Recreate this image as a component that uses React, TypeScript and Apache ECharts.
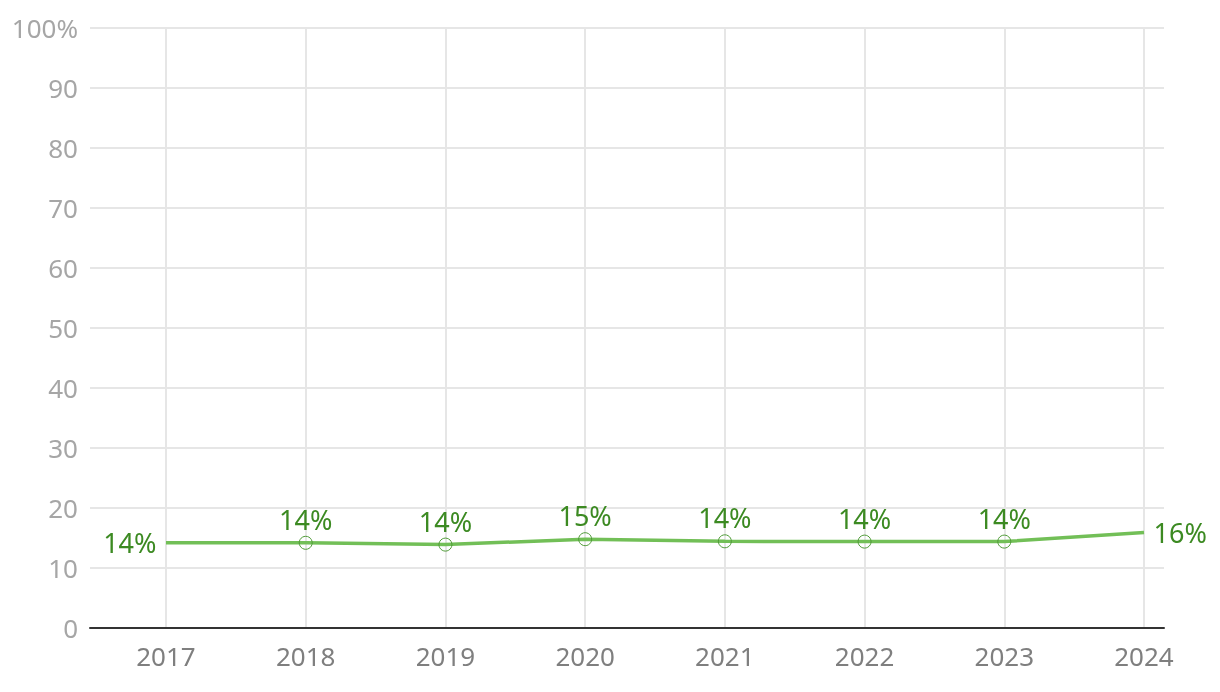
import React, { useEffect, useRef } from "react";
import * as echarts from "echarts";

const years = ["2017", "2018", "2019", "2020", "2021", "2022", "2023", "2024"];
const shares = [14.2, 14.2, 13.9, 14.8, 14.45, 14.4, 14.4, 15.9];
const yTicks = [0, 10, 20, 30, 40, 50, 60, 70, 80, 90, 100];

const FONT = "Noto Sans";
const GREEN_LINE = "#72bf57";
const GREEN_TEXT = "#3c8a22";

export default function App() {
  const ref = useRef<HTMLDivElement>(null);
  useEffect(() => {
    const chart = echarts.init(ref.current!, null, { renderer: "svg" });
    const last = years.length - 1;
    const data = shares.map((v, i) => {
      const item: any = { value: v };
      if (i === 0 || i === last) {
        item.symbolSize = 1;
        item.itemStyle = { color: "transparent", borderColor: "transparent", borderWidth: 0 };
        item.label = { position: i === 0 ? "left" : "right", distance: 9, padding: [0, 0, 4, 0] };
      }
      return item;
    });
    chart.setOption({
      animation: false,
      textStyle: { fontFamily: FONT },
      grid: [
        { left: 90, right: 56, top: 28, bottom: 64, containLabel: false },
        { left: 166, right: 76, top: 28, bottom: 64, containLabel: false },
      ],
      xAxis: [
        {
          type: "category",
          gridIndex: 0,
          data: years,
          axisLine: { show: true, lineStyle: { color: "#333333", width: 2 } },
          axisTick: { show: false },
          axisLabel: { show: false },
          splitLine: { show: false },
          z: 5,
        },
        {
          type: "category",
          gridIndex: 1,
          data: years,
          boundaryGap: false,
          axisLine: { show: false },
          axisTick: { show: false },
          axisLabel: {
            show: true,
            color: "#7f7f7f",
            fontSize: 26,
            fontFamily: FONT,
            margin: 15,
            interval: 0,
          },
          splitLine: { show: true, lineStyle: { color: "#e6e6e6", width: 2 } },
        },
      ],
      yAxis: [
        {
          type: "value",
          gridIndex: 0,
          min: yTicks[0],
          max: yTicks[yTicks.length - 1],
          interval: 10,
          axisLine: { show: false },
          axisTick: { show: false },
          axisLabel: {
            color: "#a6a6a6",
            fontSize: 26,
            fontFamily: FONT,
            margin: 12,
            formatter: (v: number) => (v === 100 ? "100%" : String(v)),
          },
          splitLine: { show: true, lineStyle: { color: "#e6e6e6", width: 2 } },
        },
        {
          type: "value",
          gridIndex: 1,
          min: 0,
          max: 100,
          interval: 10,
          show: false,
          splitLine: { show: false },
        },
      ],
      series: [
        {
          type: "line",
          xAxisIndex: 1,
          yAxisIndex: 1,
          data,
          symbol: "circle",
          symbolSize: 13,
          showSymbol: true,
          itemStyle: { color: "transparent", borderColor: "#4e9a36", borderWidth: 1 },
          lineStyle: { color: GREEN_LINE, width: 3.5 },
          label: {
            show: true,
            position: "top",
            distance: 3,
            color: GREEN_TEXT,
            fontSize: 27,
            fontFamily: FONT,
            formatter: (p: any) => Math.round(p.value) + "%",
          },
          z: 10,
        },
      ],
    });
    return () => chart.dispose();
  }, []);
  return (
    <div
      ref={ref}
      style={{ position: "fixed", left: 0, top: 0, width: 1220, height: 692 }}
    />
  );
}
